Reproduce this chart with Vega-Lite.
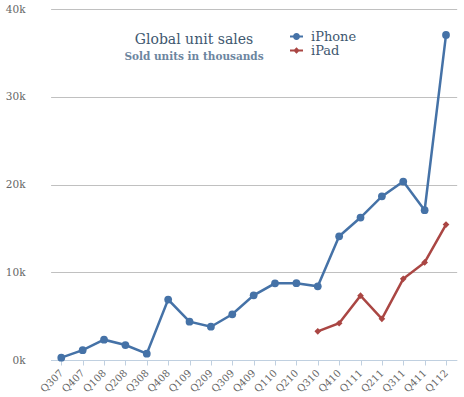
{
  "$schema": "https://vega.github.io/schema/vega-lite/v6.json",
  "width": 434,
  "height": 351,
  "autosize": {"type": "none"},
  "padding": {"left": 30, "top": 9, "right": 0, "bottom": 37},
  "background": "white",
  "config": {
    "view": {"stroke": null},
    "font": "DejaVu Serif"
  },
  "title": {
    "text": "Global unit sales",
    "subtitle": "Sold units in thousands",
    "anchor": "middle",
    "frame": "group",
    "orient": "top",
    "offset": -58,
    "dx": -53,
    "fontSize": 14,
    "fontWeight": "normal",
    "color": "#3E576F",
    "subtitleFontSize": 10.5,
    "subtitleFontWeight": "bold",
    "subtitleColor": "#6D869F",
    "subtitlePadding": 5
  },
  "data": {
    "values": [
      {"q": "Q307", "series": "iPhone", "value": 270},
      {"q": "Q407", "series": "iPhone", "value": 1119},
      {"q": "Q108", "series": "iPhone", "value": 2315},
      {"q": "Q208", "series": "iPhone", "value": 1703},
      {"q": "Q308", "series": "iPhone", "value": 717},
      {"q": "Q408", "series": "iPhone", "value": 6892},
      {"q": "Q109", "series": "iPhone", "value": 4363},
      {"q": "Q209", "series": "iPhone", "value": 3793},
      {"q": "Q309", "series": "iPhone", "value": 5208},
      {"q": "Q409", "series": "iPhone", "value": 7367},
      {"q": "Q110", "series": "iPhone", "value": 8737},
      {"q": "Q210", "series": "iPhone", "value": 8752},
      {"q": "Q310", "series": "iPhone", "value": 8398},
      {"q": "Q410", "series": "iPhone", "value": 14102},
      {"q": "Q111", "series": "iPhone", "value": 16235},
      {"q": "Q211", "series": "iPhone", "value": 18647},
      {"q": "Q311", "series": "iPhone", "value": 20338},
      {"q": "Q411", "series": "iPhone", "value": 17070},
      {"q": "Q112", "series": "iPhone", "value": 37044},
      {"q": "Q310", "series": "iPad", "value": 3270},
      {"q": "Q410", "series": "iPad", "value": 4188},
      {"q": "Q111", "series": "iPad", "value": 7331},
      {"q": "Q211", "series": "iPad", "value": 4694},
      {"q": "Q311", "series": "iPad", "value": 9246},
      {"q": "Q411", "series": "iPad", "value": 11123},
      {"q": "Q112", "series": "iPad", "value": 15434}
    ]
  },
  "encoding": {
    "x": {
      "field": "q",
      "type": "ordinal",
      "sort": null,
      "scale": {"type": "point", "range": [20.6, 426.7]},
      "axis": {
        "title": null,
        "labelAngle": -45,
        "labelAlign": "right",
        "labelBaseline": "middle",
        "labelFontSize": 10,
        "labelColor": "#666666",
        "labelPadding": 6,
        "domainColor": "#C0D0E0",
        "tickColor": "#C0D0E0",
        "tickSize": 5,
        "grid": false
      }
    },
    "y": {
      "field": "value",
      "type": "quantitative",
      "scale": {"domain": [0, 40000], "nice": false},
      "axis": {
        "title": null,
        "values": [0, 10000, 20000, 30000, 40000],
        "labelExpr": "datum.value / 1000 + 'k'",
        "labelFontSize": 10.5,
        "labelColor": "#666666",
        "labelPadding": 5,
        "domain": false,
        "ticks": false,
        "grid": true,
        "gridColor": "#C0C0C0",
        "gridWidth": 1
      }
    },
    "color": {
      "field": "series",
      "type": "nominal",
      "scale": {"domain": ["iPhone", "iPad"], "range": ["#4572A7", "#AA4643"]}
    }
  },
  "layer": [
    {
      "mark": {"type": "line", "strokeWidth": 2.5},
      "encoding": {
        "color": {
          "field": "series",
          "type": "nominal",
          "scale": {"domain": ["iPhone", "iPad"], "range": ["#4572A7", "#AA4643"]},
          "legend": {
            "title": null,
            "orient": "none",
            "legendX": 260,
            "legendY": 21,
            "symbolSize": 169,
            "labelFontSize": 13,
            "labelColor": "#3E576F",
            "labelOffset": 8,
            "rowPadding": 0,
            "encode": {
              "symbols": {
                "update": {
                  "shape": {"signal": "datum.value === 'iPhone' ? 'M-1,-0.16L1,-0.16L1,0.16L-1,0.16Z M-0.54,0A0.54,0.54 0 1 1 0.54,0A0.54,0.54 0 1 1 -0.54,0Z' : 'M-1,-0.16L1,-0.16L1,0.16L-1,0.16Z M0,-0.5L0.5,0L0,0.5L-0.5,0Z'"},
                  "fill": {"scale": "color", "field": "value"},
                  "fillOpacity": {"value": 1},
                  "strokeWidth": {"value": 0},
                  "opacity": {"value": 1}
                }
              }
            }
          }
        }
      }
    },
    {
      "transform": [{"filter": "datum.series === 'iPhone'"}],
      "mark": {"type": "point", "filled": true, "opacity": 1, "shape": "circle", "size": 60},
      "encoding": {
        "color": {
          "field": "series",
          "type": "nominal",
          "scale": {"domain": ["iPhone", "iPad"], "range": ["#4572A7", "#AA4643"]},
          "legend": null
        }
      }
    },
    {
      "transform": [{"filter": "datum.series === 'iPad'"}],
      "mark": {"type": "point", "filled": true, "opacity": 1, "shape": "diamond", "size": 45},
      "encoding": {
        "color": {
          "field": "series",
          "type": "nominal",
          "scale": {"domain": ["iPhone", "iPad"], "range": ["#4572A7", "#AA4643"]},
          "legend": null
        }
      }
    }
  ]
}
